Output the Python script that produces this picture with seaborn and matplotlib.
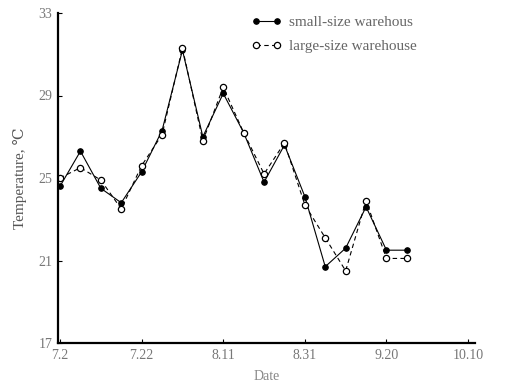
import matplotlib
matplotlib.use("Agg")
import matplotlib.pyplot as plt
import seaborn as sns
import pandas as pd

# Sampling dates (every 5 days from 2 July) and day offsets used for the x scale
dates = ["7.2", "7.7", "7.12", "7.17", "7.22", "7.27", "8.1", "8.6", "8.11",
         "8.16", "8.21", "8.26", "8.31", "9.5", "9.10", "9.15", "9.20", "9.25"]
days = [0, 5, 10, 15, 20, 25, 30, 35, 40, 45, 50, 55, 60, 65, 70, 75, 80, 85]

# Air temperature inside each warehouse, degrees C
small_temp = [24.6, 26.3, 24.5, 23.8, 25.3, 27.3, 31.2, 27.0, 29.1,
              27.2, 24.8, 26.6, 24.1, 20.7, 21.6, 23.6, 21.5, 21.5]
large_temp = [25.0, 25.5, 24.9, 23.5, 25.6, 27.1, 31.3, 26.8, 29.4,
              27.2, 25.2, 26.7, 23.7, 22.1, 20.5, 23.9, 21.1, 21.1]

# Axis ticks
x_tick_days = [0, 20, 40, 60, 80, 100]
x_tick_labels = ["7.2", "7.22", "8.11", "8.31", "9.20", "10.10"]
y_ticks = [17, 21, 25, 29, 33]

small_df = pd.DataFrame({"day": days, "date": dates, "temp": small_temp})
large_df = pd.DataFrame({"day": days, "date": dates, "temp": large_temp})

sns.set_style("white")
plt.rcParams["font.family"] = ["Liberation Serif", "DejaVu Serif"]

fig = plt.figure(figsize=(5.05, 3.87), dpi=100)
ax = fig.add_axes([58 / 505, 1 - 343 / 387, (475 - 58) / 505, (343 - 13) / 387])

sns.lineplot(data=small_df, x="day", y="temp", ax=ax, color="black",
             linewidth=0.8, marker="o", markersize=4, markerfacecolor="black",
             markeredgecolor="black", label="small-size warehous")
sns.lineplot(data=large_df, x="day", y="temp", ax=ax, color="black",
             linewidth=0.8, linestyle=(0, (4, 3)), marker="o", markersize=4.5,
             markerfacecolor="white", markeredgecolor="black", markeredgewidth=0.9,
             label="large-size warehouse")

ax.set_xlim(-0.5, 101.7)
ax.set_ylim(17, 33)
ax.set_xticks(x_tick_days)
ax.set_xticklabels(x_tick_labels)
ax.set_yticks(y_ticks)

for side in ("top", "right"):
    ax.spines[side].set_visible(False)
for side in ("left", "bottom"):
    ax.spines[side].set_color("black")
    ax.spines[side].set_linewidth(1.6)

ax.tick_params(axis="both", direction="in", length=3, width=0.8,
               colors="black", labelcolor="#777777", labelsize=10,
               left=True, bottom=True, pad=4)

ax.set_xlabel("Date", color="#888888", fontsize=10, labelpad=6)
ax.set_ylabel("Temperature, \u2103", color="#555555", fontsize=11, labelpad=8)

leg = ax.legend(loc="upper left", bbox_to_anchor=(0.43, 1.035), frameon=False,
                fontsize=11, numpoints=2, handlelength=2.0, handletextpad=0.5,
                labelspacing=0.7, labelcolor="#666666")

fig.savefig("out.png", dpi=100, facecolor="white")
